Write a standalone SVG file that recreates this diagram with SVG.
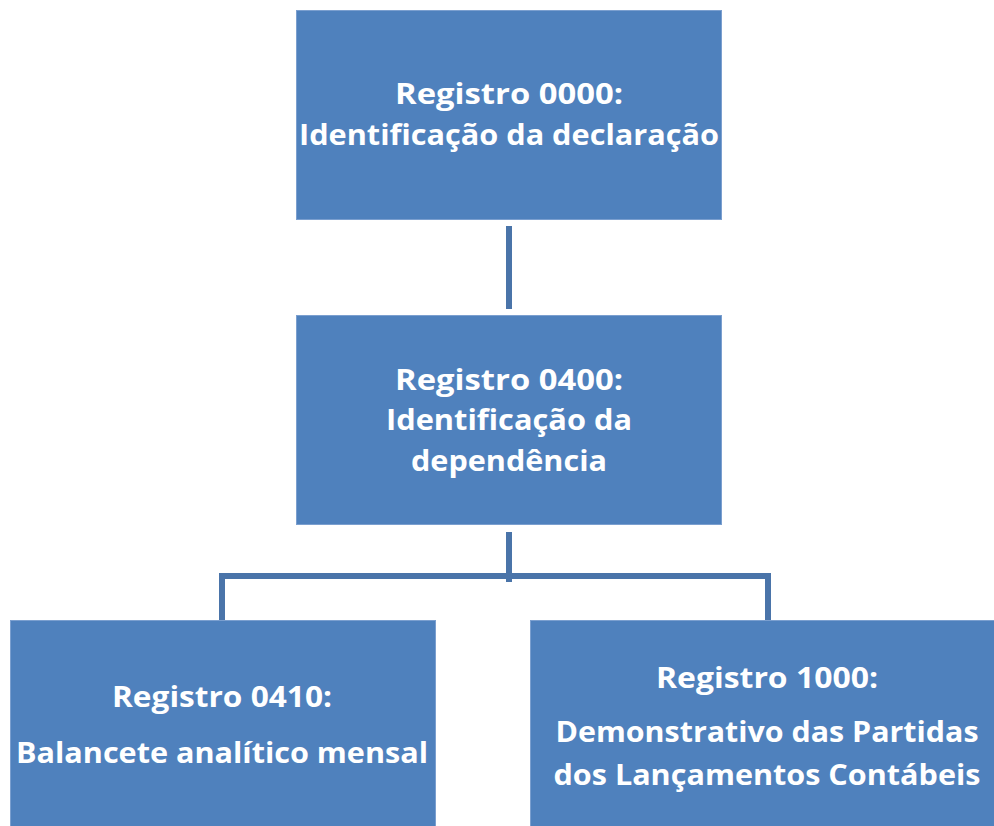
<svg xmlns="http://www.w3.org/2000/svg" width="994" height="826" viewBox="0 0 994 826">
<style>
.box{fill:#4f81bd;stroke:#7b9fcf;stroke-width:1}
.t{font-family:"Open Sans","Noto Sans","Liberation Sans",sans-serif;font-weight:bold;font-size:29px;fill:#ffffff;text-anchor:middle}
.c{fill:none;stroke:#4a74a9;stroke-width:6;stroke-linejoin:miter}
</style>
<rect width="994" height="826" fill="#ffffff"/>
<g id="connectors">
<line class="c" x1="509" y1="226" x2="509" y2="309"/>
<line class="c" x1="509" y1="532" x2="509" y2="582"/>
<polyline class="c" points="222,629 222,576 768,576 768,629"/>
</g>
<g id="n0000">
<rect class="box" x="296.5" y="10.5" width="425" height="209"/>
<text class="t" x="509" y="104" textLength="228" lengthAdjust="spacingAndGlyphs">Registro 0000:</text>
<text class="t" x="509" y="145" textLength="420" lengthAdjust="spacingAndGlyphs">Identificação da declaração</text>
</g>
<g id="n0400">
<rect class="box" x="296.5" y="315.5" width="425" height="209"/>
<text class="t" x="509" y="390" textLength="228" lengthAdjust="spacingAndGlyphs">Registro 0400:</text>
<text class="t" x="509" y="430" textLength="246" lengthAdjust="spacingAndGlyphs">Identificação da</text>
<text class="t" x="509" y="471" textLength="196" lengthAdjust="spacingAndGlyphs">dependência</text>
</g>
<g id="n0410">
<rect class="box" x="10.5" y="620.5" width="425" height="215"/>
<text class="t" x="222" y="707" textLength="220" lengthAdjust="spacingAndGlyphs">Registro 0410:</text>
<text class="t" x="222" y="763" textLength="412" lengthAdjust="spacingAndGlyphs">Balancete analítico mensal</text>
</g>
<g id="n1000">
<rect class="box" x="530.5" y="620.5" width="475" height="215"/>
<text class="t" x="767" y="688" textLength="222" lengthAdjust="spacingAndGlyphs">Registro 1000:</text>
<text class="t" x="767" y="742" textLength="423" lengthAdjust="spacingAndGlyphs">Demonstrativo das Partidas</text>
<text class="t" x="767" y="785" textLength="427" lengthAdjust="spacingAndGlyphs">dos Lançamentos Contábeis</text>
</g>
</svg>
